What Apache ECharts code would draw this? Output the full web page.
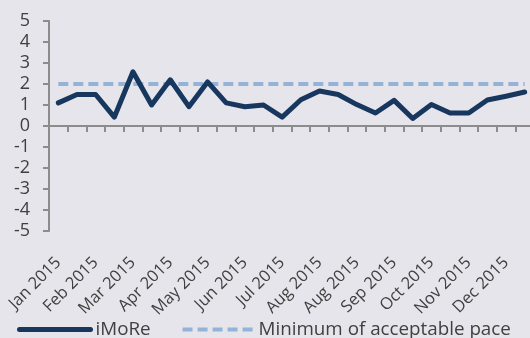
<!DOCTYPE html>
<html><head><meta charset="utf-8">
<script src="https://cdn.jsdelivr.net/npm/echarts@6/dist/echarts.min.js"></script>
<style>html,body{margin:0;padding:0;background:#E7E5EC;}#c{width:530px;height:338px;}</style>
</head><body><div id="c"></div>
<script>
const tickLabels = ["Jan 2015","Feb 2015","Mar 2015","Apr 2015","May 2015","Jun 2015","Jul 2015","Aug 2015","Aug 2015","Sep 2015","Oct 2015","Nov 2015","Dec 2015"];
const categories = ["P1","P2","P3","P4","P5","P6","P7","P8","P9","P10","P11","P12","P13","P14","P15","P16","P17","P18","P19","P20","P21","P22","P23","P24","P25","P26"];
const imore = [1.1,1.5,1.5,0.42,2.58,1.0,2.2,0.92,2.1,1.1,0.92,1.0,0.42,1.25,1.67,1.5,1.02,0.62,1.22,0.36,1.02,0.62,0.62,1.24,1.42,1.62];
const minPace = [2,2,2,2,2,2,2,2,2,2,2,2,2,2,2,2,2,2,2,2,2,2,2,2,2,2];
const yMin = -5, yMax = 5, yStep = 1;

const chart = echarts.init(document.getElementById('c'));
const font = '"Open Sans", sans-serif';
chart.setOption({
  backgroundColor: '#E7E5EC',
  animation: false,
  grid: {left: 49, top: 21, right: -4, bottom: 107, containLabel: false, outerBoundsMode: 'none'},
  legend: {
    left: 17, top: 320, padding: 0, itemWidth: 71, itemHeight: 14, itemGap: 30,
    textStyle: {fontFamily: font, fontSize: 18.8, color: '#404040'},
    itemStyle: {opacity: 0},
    data: [
      {name: 'iMoRe', lineStyle: {width: 5, color: '#17375E', cap: 'round'}},
      {name: 'Minimum of acceptable pace', lineStyle: {width: 4, color: '#95B3D7', type: [10, 5]}}
    ]
  },
  xAxis: [{
    type: 'category', data: categories, boundaryGap: true,
    axisLine: {onZero: true, lineStyle: {color: '#8C8C8C', width: 2}},
    axisTick: {show: true, interval: 0, length: 6, lineStyle: {color: '#8C8C8C', width: 2}},
    axisLabel: {show: false},
    splitLine: {show: false}
  }, {
    type: 'category', data: categories, boundaryGap: true, position: 'bottom',
    axisLine: {show: false, onZero: false},
    axisTick: {show: false},
    axisLabel: {
      interval: 1, rotate: 45, margin: 29, fontFamily: font, fontSize: 16.5, color: '#404040',
      hideOverlap: false,
      formatter: (v, i) => tickLabels[i / 2] || ''
    },
    splitLine: {show: false}
  }],
  yAxis: {
    type: 'value', min: yMin, max: yMax, interval: yStep,
    axisLine: {show: true, onZero: false, lineStyle: {color: '#8C8C8C', width: 2}},
    axisTick: {show: true, length: 6, lineStyle: {color: '#8C8C8C', width: 2}},
    axisLabel: {margin: 19, fontFamily: font, fontSize: 18, color: '#404040', hideOverlap: false},
    splitLine: {show: false}
  },
  series: [
    {name: 'iMoRe', type: 'line', data: imore, symbol: 'none', z: 3,
     lineStyle: {color: '#17375E', width: 5, cap: 'round', join: 'round'}, itemStyle:{color:'#17375E'}},
    {name: 'Minimum of acceptable pace', type: 'line', data: minPace, symbol: 'none', z: 2,
     lineStyle: {color: '#95B3D7', width: 4, type: [10, 5]}, itemStyle:{color:'#95B3D7'}}
  ]
});
</script></body></html>
